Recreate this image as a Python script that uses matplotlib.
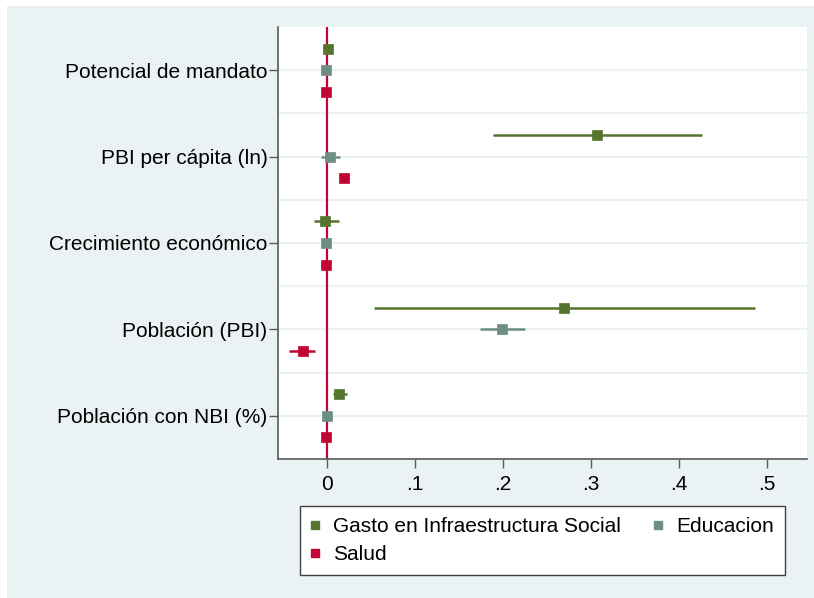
import matplotlib
matplotlib.use('Agg')
import matplotlib.pyplot as plt
from matplotlib.patches import Rectangle
from matplotlib.lines import Line2D

# datos
categorias = ['Potencial de mandato', 'PBI per cápita (ln)', 'Crecimiento económico',
              'Población (PBI)', 'Población con NBI (%)']
series = ['Gasto en Infraestructura Social', 'Educacion', 'Salud']

gasto_coef = [0.001, 0.3075, -0.002, 0.2696, 0.0137]
gasto_lo = [0.000, 0.189, -0.015, 0.053, 0.0068]
gasto_hi = [0.002, 0.427, 0.013, 0.487, 0.022]

educ_coef = [-0.001, 0.003, -0.001, 0.1993, 0.000]
educ_lo = [-0.002, -0.007, -0.002, 0.174, -0.001]
educ_hi = [0.000, 0.0145, 0.000, 0.2255, 0.001]

salud_coef = [-0.001, 0.019, -0.001, -0.028, -0.001]
salud_lo = [-0.002, 0.0137, -0.002, -0.043, -0.002]
salud_hi = [0.000, 0.0244, 0.000, -0.0137, 0.000]

xticks = [0, 0.1, 0.2, 0.3, 0.4, 0.5]
xticklabels = ['0', '.1', '.2', '.3', '.4', '.5']

col_verde = '#55752F'
col_gris = '#6E8E84'
col_rojo = '#C10534'
col_fondo = '#EAF2F3'

plt.rcParams['font.family'] = ['Liberation Sans', 'DejaVu Sans']

fig = plt.figure(figsize=(8.14, 5.98), dpi=100, facecolor='white')
fig.patches.append(Rectangle((7 / 814, 0), 1, 1 - 6 / 598, transform=fig.transFigure,
                             facecolor=col_fondo, edgecolor='none', zorder=-5))

ax = fig.add_axes([278 / 814, 1 - 459 / 598, (807 - 278) / 814, (459 - 27) / 598])
ax.set_zorder(1)
ax.set_facecolor('white')

# linea vertical en cero
ax.axvline(0, color=col_rojo, linewidth=1.6, zorder=2)

# lineas horizontales de grilla
for k in range(1, 11):
    ax.axhline(0.5 + k * 0.5, color=col_fondo, linewidth=1.6, zorder=1)

pos = list(range(1, len(categorias) + 1))
datos = [
    (gasto_coef, gasto_lo, gasto_hi, col_verde, -0.25),
    (educ_coef, educ_lo, educ_hi, col_gris, 0.0),
    (salud_coef, salud_lo, salud_hi, col_rojo, 0.25),
]
for coef, lo, hi, col, off in datos:
    ys = [p + off for p in pos]
    ax.hlines(ys, lo, hi, color=col, linewidth=1.8, zorder=3)
    ax.plot(coef, ys, linestyle='none', marker='s', markersize=6.8, color=col,
            markeredgecolor=col, markeredgewidth=0.5, zorder=4)

ax.set_xlim(-0.056, 0.546)
ax.set_ylim(5.5, 0.5)
ax.set_yticks(pos)
ax.set_yticklabels(categorias, fontsize=15)
ax.set_xticks(xticks)
ax.set_xticklabels(xticklabels, fontsize=15)

for s in ['top', 'right']:
    ax.spines[s].set_visible(False)
for s in ['left', 'bottom']:
    ax.spines[s].set_color('#5a5a5a')
    ax.spines[s].set_linewidth(1.2)
ax.tick_params(axis='both', direction='out', length=6.5, width=1, color='#5a5a5a',
               labelcolor='black')
ax.tick_params(axis='y', pad=1)
ax.tick_params(axis='x', pad=5)

# leyenda
handles = {
    'Gasto en Infraestructura Social': Line2D([], [], linestyle='none', marker='s', markersize=6, color=col_verde),
    'Educacion': Line2D([], [], linestyle='none', marker='s', markersize=6, color=col_gris),
    'Salud': Line2D([], [], linestyle='none', marker='s', markersize=6, color=col_rojo),
}
orden = ['Gasto en Infraestructura Social', 'Salud', 'Educacion']
leg = fig.legend([handles[n] for n in orden], orden, ncol=2, loc='upper left',
                 bbox_to_anchor=(300 / 814, 1 - 506 / 598), fontsize=15,
                 frameon=True, fancybox=False, edgecolor='#404040', facecolor='white',
                 framealpha=1, handlelength=0.35, handletextpad=0.7, columnspacing=1.58,
                 labelspacing=0.4, borderpad=0.55, borderaxespad=0)
leg.get_frame().set_linewidth(1)

fig.savefig('out.png', dpi=100, facecolor='white')
